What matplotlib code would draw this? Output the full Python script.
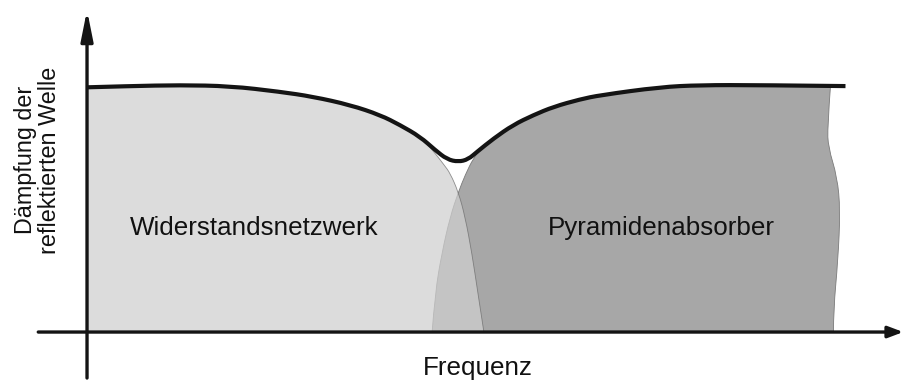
import matplotlib
matplotlib.use("Agg")
import matplotlib.pyplot as plt
from matplotlib.path import Path
from matplotlib.patches import PathPatch

plt.rcParams['font.family'] = ['Liberation Sans', 'DejaVu Sans']

# frequency (arbitrary units) / attenuation (%)
env_x = [0, 5.7, 12.4, 19.1, 25.7, 30.1, 35.1, 39.1, 41.7, 44.4, 46.4, 48.0, 49.5,
         50.8, 52.0, 54.2, 56.8, 59.5, 62.2, 65.7, 68.4, 76.4, 81.7, 89.7, 101.1]
env_y = [99.5, 100.0, 100.4, 100.0, 97.7, 95.7, 92.3, 88.2, 84.2, 79.4, 74.0, 70.2, 69.2,
         70.2, 73.3, 78.7, 84.2, 88.2, 91.6, 94.6, 96.3, 99.6, 100.4, 100.4, 100.0]

# Widerstandsnetzwerk
wn_x = [0, 5.7, 12.4, 19.1, 25.7, 30.1, 35.1, 39.1, 41.7, 44.4, 45.7, 46.8, 47.6,
        48.4, 49.5, 50.4, 51.3, 52.1, 52.9]
wn_y = [99.5, 100.0, 100.4, 100.0, 97.7, 95.7, 92.3, 88.2, 84.2, 79.4, 75.2, 71.1, 67.9,
        64.6, 56.9, 46.8, 32.1, 15.9, 0]

# Pyramidenabsorber (top edge, then the ragged right edge downwards)
pa_x = [46.0, 46.4, 47.3, 48.4, 49.5, 50.4, 51.5, 52.7, 54.1, 56.8, 59.5, 62.2,
        65.7, 68.4, 76.4, 81.7, 89.7, 99.1]
pa_y = [0, 15.9, 32.1, 46.8, 56.9, 63.8, 70.7, 75.2, 78.5, 84.2, 88.2, 91.6,
        94.6, 96.3, 99.6, 100.4, 100.4, 100.0]
pa_edge_x = [99.1, 98.7, 98.8, 100.0, 100.4, 100.1, 99.5, 99.5]
pa_edge_y = [100.0, 83.3, 75.2, 63.0, 49.6, 29.3, 8.9, 0]


def smooth(xs, ys, first=Path.MOVETO):
    # quadratic bezier through the midpoints, read points act as controls
    pts = list(zip(xs, ys))
    verts = [pts[0]]
    codes = [first]
    for i in range(1, len(pts) - 1):
        mid = ((pts[i][0] + pts[i + 1][0]) / 2, (pts[i][1] + pts[i + 1][1]) / 2)
        if i == len(pts) - 2:
            mid = pts[-1]
        verts += [pts[i], mid]
        codes += [Path.CURVE3, Path.CURVE3]
    return verts, codes


fig = plt.figure(figsize=(9.04, 3.8), dpi=100)
ax = fig.add_axes([0, 0, 1, 1])
ax.set_xlim(-11.6, 108.9)
ax.set_ylim(-19.5, 135.0)
ax.axis('off')

# dark region first, light region on top (semi transparent -> overlap shade)
v, c = smooth(pa_x, pa_y)
v2, c2 = smooth(pa_edge_x, pa_edge_y, first=Path.LINETO)
v += v2 + [(pa_x[0], 0), (pa_x[0], 0)]
c += c2 + [Path.LINETO, Path.CLOSEPOLY]
ax.add_patch(PathPatch(Path(v, c), facecolor='#a7a7a7', edgecolor='#7a7a7a',
                       lw=0.6, zorder=1))

v, c = smooth(wn_x, wn_y)
v += [(0, 0), (0, 0)]
c += [Path.LINETO, Path.CLOSEPOLY]
ax.add_patch(PathPatch(Path(v, c), facecolor=(207/255, 207/255, 207/255), alpha=0.73,
                       edgecolor='#6a6a6a', lw=0.6, zorder=2))

v, c = smooth(env_x, env_y)
ax.add_patch(PathPatch(Path(v, c), facecolor='none', edgecolor='#141414', lw=3.0,
                       capstyle='butt', joinstyle='round', zorder=4))

# axes with arrows
ax.annotate('', xy=(0, 130.9), xytext=(0, -18.7),
            arrowprops=dict(arrowstyle='-|>,head_length=0.9,head_width=0.18',
                            lw=2.4, color='#141414', mutation_scale=20,
                            shrinkA=0, shrinkB=0), zorder=5)
ax.annotate('', xy=(108.8, 0), xytext=(-6.5, 0),
            arrowprops=dict(arrowstyle='-|>,head_length=0.45,head_width=0.17',
                            lw=2.4, color='#141414', mutation_scale=20,
                            shrinkA=0, shrinkB=0), zorder=5)

ax.text(22.3, 39.4, 'Widerstandsnetzwerk', fontsize=18.7, ha='center', va='baseline',
        color='#111111', zorder=6)
ax.text(76.5, 39.4, 'Pyramidenabsorber', fontsize=18.7, ha='center', va='baseline',
        color='#111111', zorder=6)
ax.text(52.1, -17.5, 'Frequenz', fontsize=18.7, ha='center', va='baseline',
        color='#111111', zorder=6)
ax.text(-6.6, 69.9, 'Dämpfung der\nreflektierten Welle', fontsize=16.8, rotation=90,
        ha='center', va='center', multialignment='center', linespacing=1.1,
        color='#111111', zorder=6)

fig.savefig('out.png', dpi=100)
